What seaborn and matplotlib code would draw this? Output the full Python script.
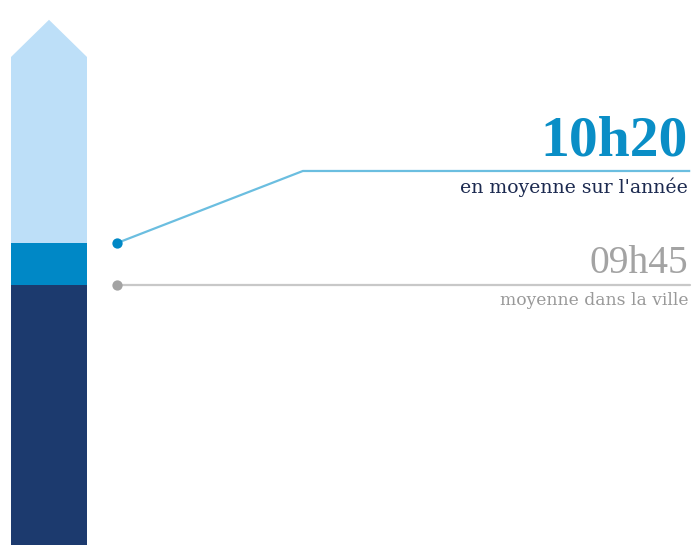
import numpy as np
import pandas as pd
import seaborn as sns
import matplotlib.pyplot as plt

# durées en minutes
moyenne_ville = 585      # 09h45
moyenne_annee = 620      # 10h20
echelle_max = 775
pointe = 806

labels = ["10h20", "09h45"]
sous_titres = ["en moyenne sur l'année", "moyenne dans la ville"]

clair = "#BDDFF8"
moyen = "#0088C6"
fonce = "#1C3A6E"
gris = "#A3A3A3"

sns.set_theme(style="white")
plt.rcParams['font.family'] = ['Liberation Serif', 'DejaVu Serif']

fig = plt.figure(figsize=(6.93, 5.45), dpi=100)
ax = fig.add_axes([0, 0, 1, 1])

# barre empilée (superposée)
couches = pd.DataFrame({
    "cat": ["t", "t", "t"],
    "val": [echelle_max, moyenne_annee, moyenne_ville],
    "couleur": [clair, moyen, fonce],
})
for _, row in couches.iterrows():
    sns.barplot(x=[row["cat"]], y=[row["val"]], color=row["couleur"],
                saturation=1, width=0.8, linewidth=0, edgecolor=row["couleur"], ax=ax)
ax.fill([-0.4, 0, 0.4, 0.4, -0.4], [echelle_max, pointe, echelle_max, echelle_max - 3, echelle_max - 3],
        color=clair, lw=0)

ax.set_xlim(-0.4 - 11 / 95, -0.4 + 682 / 95)
ax.set_ylim(368.3, 822.5)

tr = ax.get_yaxis_transform()
# ligne bleue : moyenne annuelle
coude = moyenne_annee + 60
ax.plot([0.169, 0.437, 0.996], [moyenne_annee, coude, coude], color="#6BBEE0",
        lw=1.6, transform=tr, solid_capstyle="butt")
ax.scatter([0.169], [moyenne_annee], s=55, color=moyen, transform=tr, zorder=5, lw=0)
ax.text(0.993, coude + 12.5, labels[0], transform=tr, ha="right", va="baseline",
        fontsize=41.5, fontweight="bold", color="#0A8EC6")
ax.text(0.993, coude - 18, sous_titres[0], transform=tr, ha="right", va="baseline",
        fontsize=13.6, color="#1C2A50", family="DejaVu Serif")

# ligne grise : moyenne de la ville
ax.plot([0.169, 0.996], [moyenne_ville, moyenne_ville], color="#C8C8C8",
        lw=1.6, transform=tr)
ax.scatter([0.169], [moyenne_ville], s=55, color=gris, transform=tr, zorder=5, lw=0)
ax.text(0.993, moyenne_ville + 10, labels[1], transform=tr, ha="right", va="baseline",
        fontsize=28.5, color=gris)
ax.text(0.993, moyenne_ville - 17, sous_titres[1], transform=tr, ha="right", va="baseline",
        fontsize=12.3, color="#999999", family="DejaVu Serif")

ax.axis("off")
fig.savefig("out.png", dpi=100)
